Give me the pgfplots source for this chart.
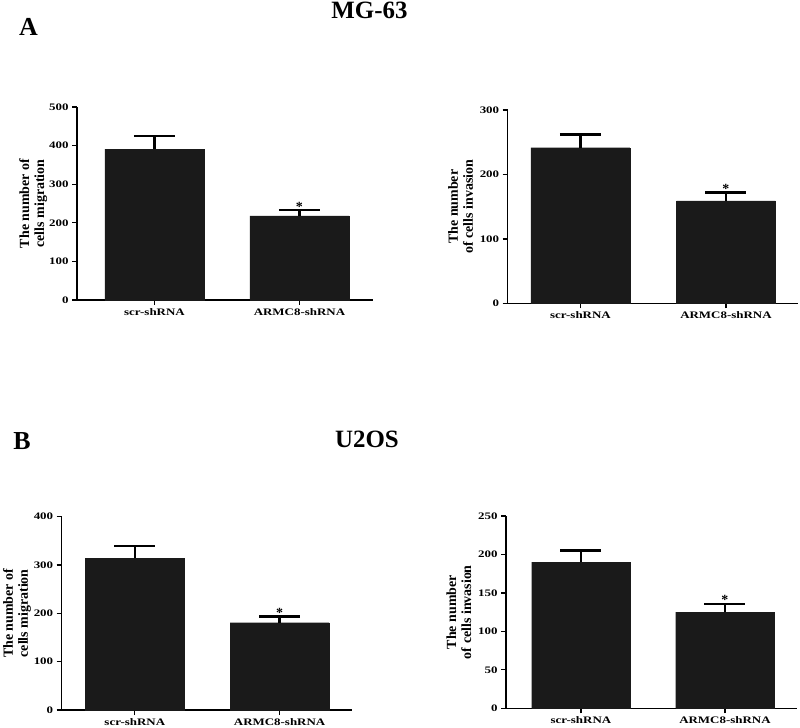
\documentclass[border=0pt]{standalone}
\usepackage{pgfplots}
\pgfplotsset{compat=1.18}
\usepackage{fontspec}
\setmainfont{Liberation Serif}
\newfontfamily\stretchfont{Liberation Serif}[FakeStretch=1.3]
\newcommand{\tickfont}{\stretchfont\bfseries\fontsize{10}{12}\selectfont}
\newcommand{\starfont}{\bfseries\fontsize{14}{14}\selectfont}
\newcommand{\labfont}{\bfseries\fontsize{14}{15}\selectfont}
\definecolor{barcol}{HTML}{1A1A1A}
\pgfplotsset{
  panel/.style={
    scale only axis, anchor=south west,
    axis x line*=bottom, axis y line*=left,
    axis line style={line width=1.3bp, black},
    xtick={0,1}, xticklabels={scr-shRNA, ARMC8-shRNA},
    tick align=outside, major tick length=5bp,
    every tick/.style={line width=1.3bp, black},
    ymin=0, enlargelimits=false,
    ticklabel style={font=\tickfont},
    /pgf/number format/assume math mode=true,
    ylabel style={font=\labfont, align=center},
    clip=false,
  },
}
\begin{document}
\begin{tikzpicture}
\useasboundingbox (0bp,0bp) rectangle (800bp,728bp);
% titles
\node[anchor=base, font=\bfseries\fontsize{26}{30}\selectfont] at (28.5bp,692bp) {A};
\node[anchor=base, font=\bfseries\fontsize{25}{30}\selectfont] at (369.5bp,709bp) {MG-63};
\node[anchor=base, font=\bfseries\fontsize{26}{30}\selectfont] at (22bp,278bp) {B};
\node[anchor=base, font=\bfseries\fontsize{25}{30}\selectfont] at (367bp,280bp) {U2OS};

% A left
\begin{axis}[panel, at={(77bp,428bp)}, width=296bp, height=193bp,
  xmin=-0.534, xmax=1.507, ymax=500, ytick={0,100,...,500},
  ylabel={The number of\\cells migration}, ylabel shift=-5bp]
\addplot[ybar, bar width=0.683, fill=barcol, draw=barcol, line width=0.1bp,
  error bars/.cd, y dir=plus, y explicit, error mark=|,
  error bar style={line width=2.5bp, black},
  error mark options={line width=2.5bp, black, mark size=20.5bp}]
  coordinates {(0,391) += (0,34) (1,218) += (0,15)};
\node[font=\starfont, anchor=base, inner sep=0] at (axis cs:1,233) [yshift=-1bp] {*};
\end{axis}

% A right
\begin{axis}[panel, at={(507.7bp,424.7bp)}, width=290.3bp, height=193.3bp,
  xmin=-0.50, xmax=1.495, ymax=300, ytick={0,100,200,300},
  ylabel={The number\\of cells invasion}]
\addplot[ybar, bar width=0.68, fill=barcol, draw=barcol, line width=0.1bp,
  error bars/.cd, y dir=plus, y explicit, error mark=|,
  error bar style={line width=2.5bp, black},
  error mark options={line width=2.5bp, black, mark size=20.5bp}]
  coordinates {(0,241.5) += (0,20.5) (1,159) += (0,13)};
\node[font=\starfont, anchor=base, inner sep=0] at (axis cs:1,172) [yshift=-1bp] {*};
\end{axis}

% B left
\begin{axis}[panel, at={(61.7bp,18bp)}, width=290.3bp, height=193.3bp,
  xmin=-0.505, xmax=1.50, ymax=400, ytick={0,100,...,400},
  ylabel={The number of\\cells migration}, ylabel shift=-4bp]
\addplot[ybar, bar width=0.684, fill=barcol, draw=barcol, line width=0.1bp,
  error bars/.cd, y dir=plus, y explicit, error mark=|,
  error bar style={line width=2.5bp, black},
  error mark options={line width=2.5bp, black, mark size=20.5bp}]
  coordinates {(0,314.5) += (0,24.5) (1,180.7) += (0,12.3)};
\node[font=\starfont, anchor=base, inner sep=0] at (axis cs:1,193) [yshift=-1bp] {*};
\end{axis}

% B right
\begin{axis}[panel, at={(506bp,19.7bp)}, width=291bp, height=192.3bp,
  xmin=-0.52, xmax=1.50, ymax=250, ytick={0,50,...,250},
  ylabel={The number\\of cells invasion}]
\addplot[ybar, bar width=0.685, fill=barcol, draw=barcol, line width=0.1bp,
  error bars/.cd, y dir=plus, y explicit, error mark=|,
  error bar style={line width=2.5bp, black},
  error mark options={line width=2.5bp, black, mark size=20.5bp}]
  coordinates {(0,190) += (0,15.4) (1,125) += (0,10.6)};
\node[font=\starfont, anchor=base, inner sep=0] at (axis cs:1,135.6) [yshift=-1bp] {*};
\end{axis}
\end{tikzpicture}
\end{document}
